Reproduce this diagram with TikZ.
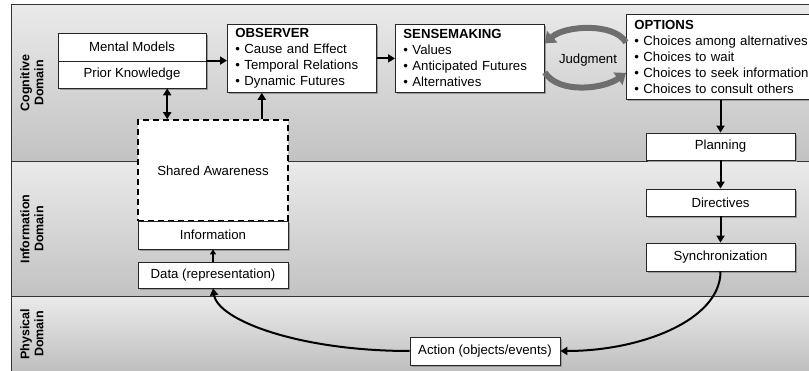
\documentclass[tikz,border=0pt]{standalone}
\usepackage{fontspec}
\setmainfont{Liberation Sans}
\usetikzlibrary{arrows.meta,shadows}
\definecolor{bandtop}{HTML}{EAEAEA}
\definecolor{bandbot}{HTML}{C2C2C2}
\definecolor{judg}{HTML}{6E6E6E}
\begin{document}
\begin{tikzpicture}[x=1pt,y=-1pt,
  txt/.style={font=\fontsize{13.2}{16}\selectfont},
  box/.style={txt, draw=black!85, fill=white, line width=0.8pt, inner sep=0pt,
    drop shadow={shadow xshift=2pt,shadow yshift=-2pt,fill=black!40,opacity=1}},
  listbox/.style={box, align=left, inner xsep=8pt, anchor=north west},
  dom/.style={font=\fontsize{12.5}{14}\selectfont\bfseries, align=center, rotate=90},
  arr/.style={-{Triangle[width=8pt,length=7pt]}, line width=2pt},
  dblarr/.style={{Triangle[width=8pt,length=7pt]}-{Triangle[width=8pt,length=7pt]}, line width=2pt},
  smallarr/.style={-{Triangle[width=6pt,length=5pt]}, line width=1.6pt},
  judgarr/.style={-{Triangle[width=15pt,length=10pt]}, line width=6pt, draw=judg},
  frame/.style={draw=black!80, line width=1pt}]
\useasboundingbox (0,0) rectangle (809,371);
% bands
\shade[top color=bandtop, bottom color=bandbot] (11,5) rectangle (809,162);
\shade[top color=bandtop, bottom color=bandbot] (11,162) rectangle (809,297);
\shade[top color=bandtop, bottom color=bandbot!105] (11,297) rectangle (809,371);
\draw[frame] (11,371) -- (11,5) -- (809,5);
\draw[frame] (11,162) -- (809,162);
\draw[frame] (11,297) -- (809,297);
% domain labels
\node[dom] (cog) at (32,83) {Cognitive\\Domain};
\node[dom] (inf) at (32,229) {Information\\Domain};
\node[dom] (phy) at (32,334) {Physical\\Domain};
% boxes
\node[box, minimum width=148pt, minimum height=28pt] (mm) at (132,47) {Mental Models};
\node[box, minimum width=148pt, minimum height=27pt] (pk) at (132,74.5) {Prior Knowledge};
\node[listbox, text width=133pt, minimum height=68pt] (obs) at (227,24)
  {\textbf{OBSERVER}\\\textbullet\ Cause and Effect\\\textbullet\ Temporal Relations\\\textbullet\ Dynamic Futures};
\node[listbox, text width=133pt, minimum height=68pt] (sense) at (395,24)
  {\textbf{SENSEMAKING}\\\textbullet\ Values\\\textbullet\ Anticipated Futures\\\textbullet\ Alternatives};
\node[listbox, text width=180pt, minimum height=85pt] (opt) at (626,14)
  {\textbf{OPTIONS}\\\textbullet\ Choices among alternatives\\\textbullet\ Choices to wait\\\textbullet\ Choices to seek information\\\textbullet\ Choices to consult others};
\node[txt] (judgment) at (588,60) {Judgment};
\node[txt, draw=black, fill=white, line width=1.6pt, dash pattern=on 6pt off 4pt,
  minimum width=150pt, minimum height=101pt, inner sep=0pt] (sa) at (213,170.5) {};
\node[txt] (satext) at (213,171) {Shared Awareness};
\node[box, minimum width=150pt, minimum height=28pt] (info) at (213,235) {Information};
\node[box, minimum width=150pt, minimum height=26pt] (data) at (213,275) {Data (representation)};
\node[box, minimum width=149pt, minimum height=27pt] (plan) at (720.5,146.5) {Planning};
\node[box, minimum width=149pt, minimum height=27pt] (dir) at (720.5,202.5) {Directives};
\node[box, minimum width=149pt, minimum height=28pt] (sync) at (720.5,257) {Synchronization};
\node[box, minimum width=150pt, minimum height=28pt] (act) at (485,351) {Action (objects/events)};
% connectors
\draw[arr] (pk.north east) -- (obs.west |- pk.north east);
\draw[arr] (obs.east) -- (sense.west);
\draw[dblarr] ([xshift=30pt]sa.north west) -- ([xshift=30pt]sa.north west |- pk.south);
\draw[arr] ([xshift=-27pt]sa.north east) -- ([xshift=-27pt]sa.north east |- obs.south);
\draw[smallarr] (data.north) -- (info.south);
\draw[arr] (plan.north |- opt.south) -- (plan.north);
\draw[arr] (plan.south) -- (dir.north);
\draw[arr] (dir.south) -- (sync.north);
\draw[arr] (sync.south) .. controls +(0,49) and +(80,0) .. (act.east);
\draw[arr] (act.west) .. controls +(-110,0) and +(5,32) .. (data.south);
% judgment arrows
\draw[judgarr] ([yshift=14.5pt]opt.west) .. controls +(-12,-20) and +(20,-18) .. ([yshift=15pt]sense.east);
\draw[judgarr] ([yshift=-14pt]sense.east) .. controls +(14,22) and +(-22,16) .. ([yshift=-16pt]opt.west);
\end{tikzpicture}
\end{document}
